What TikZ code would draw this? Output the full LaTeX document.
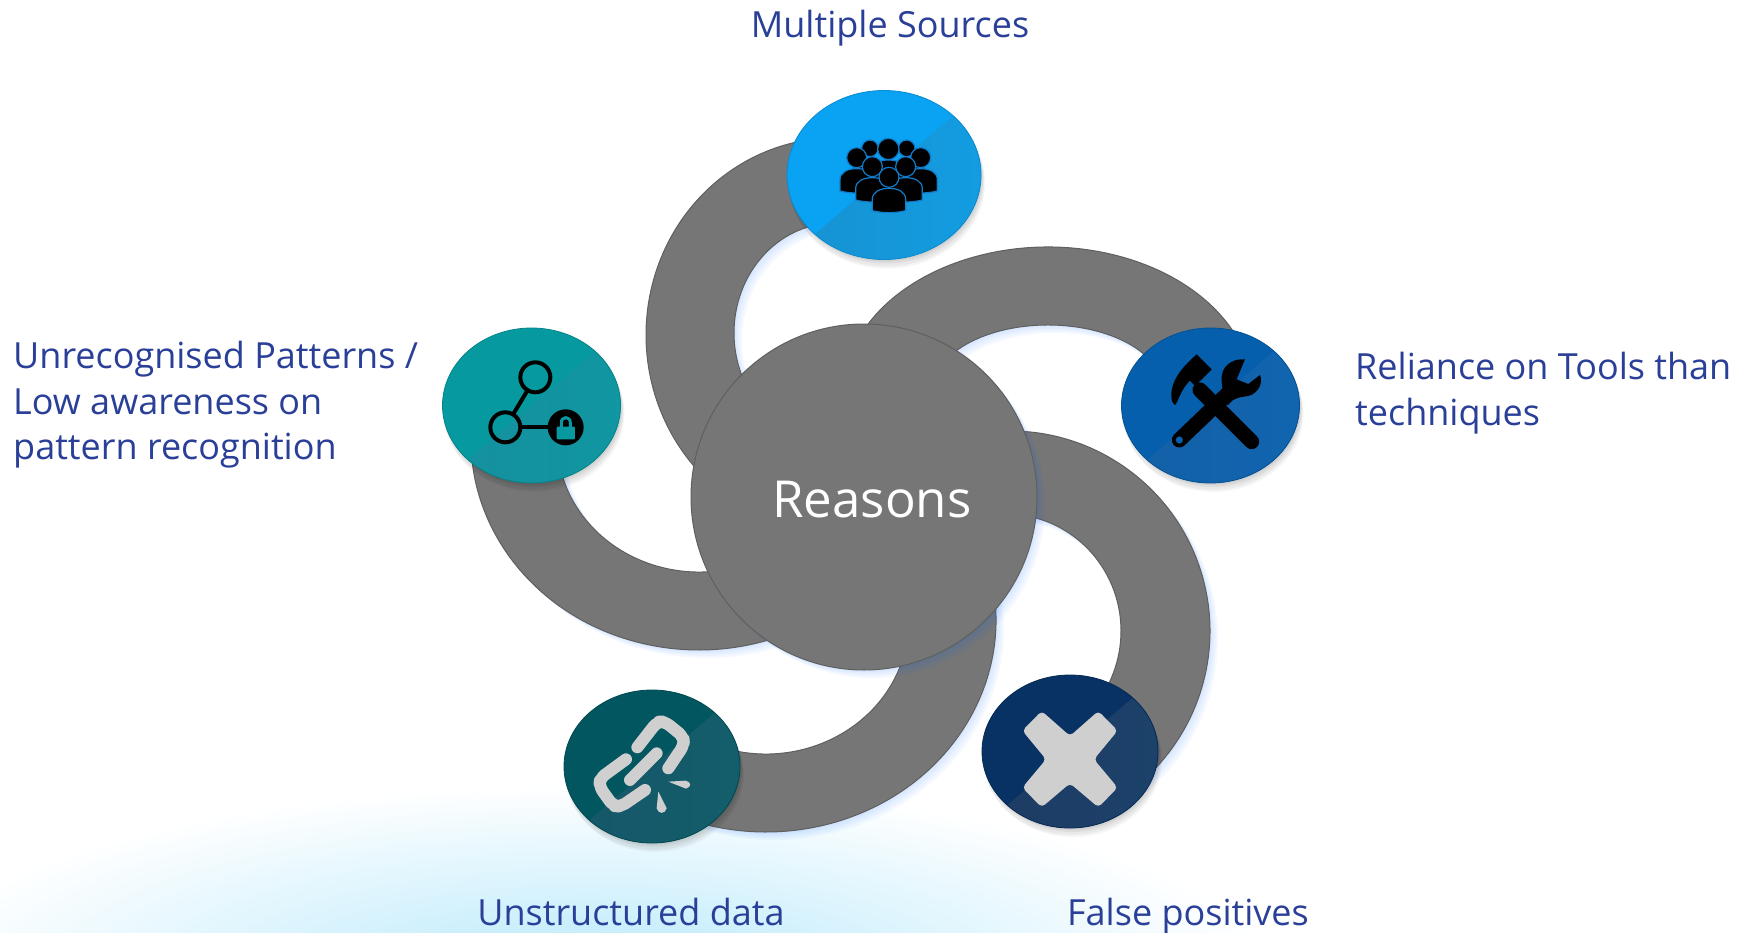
\documentclass[tikz,border=0pt]{standalone}
\usepackage{fontspec}
\setmainfont{Open Sans}
\usetikzlibrary{shapes.geometric,shadows}
\definecolor{labelblue}{HTML}{2A3F97}
\definecolor{armgray}{HTML}{767676}
\definecolor{armedge}{HTML}{5F5F5F}
\definecolor{icongray}{HTML}{CFCFCF}
\definecolor{glowblue}{HTML}{B8E9FB}
\definecolor{sourcesA}{HTML}{0AA2F2}\definecolor{sourcesB}{HTML}{1A8CC8}\definecolor{sourcesC}{HTML}{10A2EA}
\definecolor{toolsA}{HTML}{055FAD}\definecolor{toolsB}{HTML}{155FA2}\definecolor{toolsC}{HTML}{0F66B4}
\definecolor{patternsA}{HTML}{069AA0}\definecolor{patternsB}{HTML}{1A8A9C}\definecolor{patternsC}{HTML}{0C9CA3}
\definecolor{dataA}{HTML}{01565F}\definecolor{dataB}{HTML}{175268}\definecolor{dataC}{HTML}{12626C}
\definecolor{falseA}{HTML}{073263}\definecolor{falseB}{HTML}{20385E}\definecolor{falseC}{HTML}{1A456F}
\tikzset{
    softshadow/.style={
        general shadow={fill=black,opacity=.05,shadow xshift=1pt,shadow yshift=-2pt,shadow scale=1.0},
        general shadow={fill=black,opacity=.05,shadow xshift=2pt,shadow yshift=-4pt,shadow scale=1.0},
        general shadow={fill=black,opacity=.05,shadow xshift=2pt,shadow yshift=-6pt,shadow scale=1.01},
        general shadow={fill=black,opacity=.04,shadow xshift=3pt,shadow yshift=-8pt,shadow scale=1.01}},
    blueshadow/.style={
        general shadow={fill=blue!60!cyan,opacity=.04,shadow xshift=2pt,shadow yshift=-2pt},
        general shadow={fill=blue!60!cyan,opacity=.04,shadow xshift=4pt,shadow yshift=-4pt},
        general shadow={fill=blue!60!cyan,opacity=.04,shadow xshift=6pt,shadow yshift=-6pt},
        general shadow={fill=blue!60!cyan,opacity=.04,shadow xshift=8pt,shadow yshift=-8pt}},
    armshape/.style={fill=armgray,draw=armedge,line width=1pt,blueshadow},
    % base colour / darker end of the sheen / lighter end of the sheen
    badge/.style n args={3}{ellipse,inner sep=0pt,fill=#1,draw=#1!85!black,line width=.8pt,softshadow,
        path picture={\shade[left color=#2,right color=#3]
            (path picture bounding box.center) ++(-210,-180) -- ++(420,360) -- ++(0,-360) -- cycle;}},
    labeltext/.style={text=labelblue,inner sep=0pt,align=left,font=\fontsize{36}{45.5}\selectfont},
    iconbox/.style={x=.3333pt,y=-.3333pt}
}
\begin{document}
\begin{tikzpicture}[x=1pt,y=1pt]
\useasboundingbox (0,0) rectangle (1752,-933);

% Glow along the lower edge
\begin{scope}
    \clip (0,0) rectangle (1752,-933);
    \shade[inner color=glowblue,outer color=white] (590,-975) ellipse (680 and 190);
\end{scope}

% Swirl arms: outer ellipse / inner ellipse / start and end angle
\foreach \ox/\oy/\orx/\ory/\ix/\iy/\irx/\iry/\sa/\ea in {
    835/335/189/197/835/333/101/110/80/225,
    1048/395/205/148/1048/390/115/65/160/20,
    1010/631/200/200/1006/631/115/117/100/-50,
    766/620/230/212/766/620/143/134/15/-110,
    699/440/228/210/699/440/142/132/165/290}
    \draw[armshape] ({\ox+\orx*cos(\sa)},{-\oy+\ory*sin(\sa)})
        arc[start angle=\sa,end angle=\ea,x radius=\orx,y radius=\ory]
        -- ({\ix+\irx*cos(\ea)},{-\iy+\iry*sin(\ea)})
        arc[start angle=\ea,end angle=\sa,x radius=\irx,y radius=\iry] -- cycle;

% Hub
\node[circle,inner sep=0pt,minimum size=346pt,fill=armgray,draw=armedge,line width=1pt,blueshadow] (hub) at (864,-497) {};
\node[text=white,inner sep=0pt,font=\fontsize{51}{60}\selectfont] (hublabel) at (872,-500) {Reasons};

% Badges
\node[badge={sourcesA}{sourcesB}{sourcesC},minimum width=194pt,minimum height=169pt] (sources) at (884,-175) {};
\node[badge={toolsA}{toolsB}{toolsC},minimum width=178pt,minimum height=155pt] (tools) at (1210.5,-405.5) {};
\node[badge={patternsA}{patternsB}{patternsC},minimum width=178pt,minimum height=155pt] (patterns) at (531.5,-405.5) {};
\node[badge={dataA}{dataB}{dataC},minimum width=176pt,minimum height=153pt] (unstructured) at (652,-766.5) {};
\node[badge={falseA}{falseB}{falseC},minimum width=176pt,minimum height=153pt] (falsepos) at (1070,-751.5) {};

% Crowd icon
\begin{scope}[shift={(760,-70)},iconbox]
    \foreach \hx/\hy/\hr in {330/235/25,440/235/25,385/237/32,290/263/30,482/263/30,337/290/30,437/290/30,387/322/30}{
        \filldraw[fill=black,draw=cyan!60!blue,line width=1.2pt]
            (\hx-50,\hy+100) -- (\hx-50,\hy+66) .. controls (\hx-50,\hy+44) and (\hx-28,\hy+33) .. (\hx,\hy+33)
            .. controls (\hx+28,\hy+33) and (\hx+50,\hy+44) .. (\hx+50,\hy+66) -- (\hx+50,\hy+100)
            .. controls (\hx+20,\hy+108) and (\hx-20,\hy+108) .. (\hx-50,\hy+100) -- cycle;
        \filldraw[fill=black,draw=cyan!60!blue,line width=1.2pt] (\hx,\hy) circle (\hr*.3333pt);
    }
\end{scope}

% Hammer and wrench icon
\begin{scope}[shift={(1100,-310)},iconbox]
    \draw[black,line width=15pt,line cap=round] (455,395) -- (300,240);
    \draw[black,line width=15pt,line cap=round] (238,390) -- (400,235);
    \fill[black] (290,133) -- (335,178) -- (285,228) -- (270,212)
        .. controls (245,235) and (238,265) .. (226,285)
        .. controls (212,280) and (208,245) .. (225,210)
        .. controls (240,180) and (265,155) .. (290,133) -- cycle; % hammer head
    \fill[black] (435,148) .. controls (395,145) and (360,170) .. (365,215)
        .. controls (368,240) and (370,250) .. (355,262) -- (385,285)
        .. controls (400,262) and (420,262) .. (445,258)
        .. controls (475,250) and (490,220) .. (480,195)
        -- (445,222) -- (410,208) -- cycle; % wrench head
    \fill[toolsA] (238,390) circle (3.6pt);
\end{scope}

% Locked graph icon
\begin{scope}[shift={(430,-310)},iconbox]
    \draw[black,line width=4pt] (316,202) circle (15pt);
    \draw[black,line width=4pt] (226,352) circle (15pt);
    \draw[black,line width=4pt] (292,242) -- (250,312);
    \draw[black,line width=4pt] (272,352) -- (370,352);
    \fill[black] (407,352) circle (18pt);
    \fill[patternsA,rounded corners=1pt] (380,350) rectangle (435,388);
    \draw[patternsA,line width=3pt] (394,352) -- (394,338) .. controls (394,318) and (421,318) .. (421,338) -- (421,352);
\end{scope}

% Broken chain icon
\begin{scope}[shift={(550,-670)},iconbox]
    \draw[icongray,line width=12pt,line cap=round,line join=round,rounded corners=6pt]
        (262,232) -- (322,155) -- (345,155) -- (400,200) -- (402,225) -- (355,295);
    \draw[icongray,line width=12pt,line cap=round,line join=round,rounded corners=6pt]
        (228,268) -- (150,325) -- (148,350) -- (190,408) -- (212,410) -- (285,360);
    \draw[icongray,line width=12pt,line cap=round] (240,330) -- (320,250);
    \fill[icongray] (355,335) -- (408,332) .. controls (425,338) and (425,350) .. (408,356) -- cycle;
    \fill[icongray] (325,365) -- (320,415) .. controls (325,433) and (345,433) .. (350,415) -- cycle;
\end{scope}

% Cross icon
\begin{scope}[shift={(960,-660)},iconbox]
    \fill[icongray,rounded corners=4pt] (245,153) -- (330,228) -- (415,153) -- (473,212) -- (402,298)
        -- (473,383) -- (415,442) -- (330,370) -- (245,442) -- (187,383) -- (258,298) -- (187,212) -- cycle;
\end{scope}

% Labels
\node[labeltext,anchor=base] (sourceslabel) at (890,-37.5) {Multiple Sources};
\node[labeltext,anchor=west] (patternslabel) at (13,-405) {Unrecognised Patterns /\\Low awareness on\\pattern recognition};
\node[labeltext,anchor=west] (toolslabel) at (1355,-393) {Reliance on Tools than\\techniques};
\node[labeltext,anchor=base] (unstructuredlabel) at (631,-925) {Unstructured data};
\node[labeltext,anchor=base] (falseposlabel) at (1188,-925) {False positives};
\end{tikzpicture}
\end{document}
